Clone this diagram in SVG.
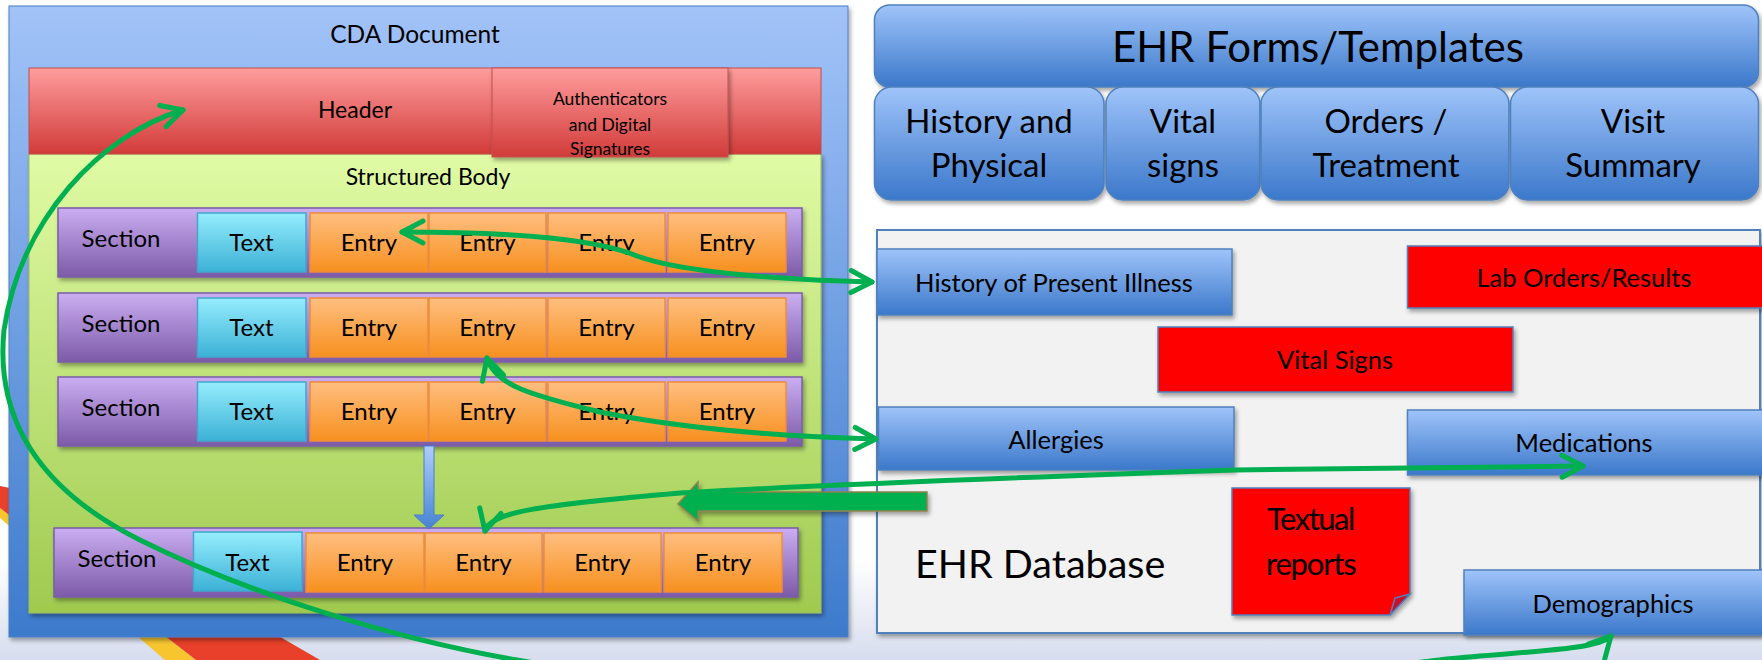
<svg xmlns="http://www.w3.org/2000/svg" width="1762" height="660" viewBox="0 0 1762 660">
  <defs>
    <linearGradient id="gBg" x1="0" y1="0" x2="0" y2="1">
      <stop offset="0" stop-color="#ffffff"/>
      <stop offset="1" stop-color="#d6ddee"/>
    </linearGradient>
    <linearGradient id="gCda" x1="0" y1="0" x2="0" y2="1">
      <stop offset="0" stop-color="#a2c3f8"/>
      <stop offset="1" stop-color="#3d7acc"/>
    </linearGradient>
    <linearGradient id="gHead" x1="0" y1="0" x2="0" y2="1">
      <stop offset="0" stop-color="#ff9d9d"/>
      <stop offset="1" stop-color="#d13b39"/>
    </linearGradient>
    <linearGradient id="gBody" x1="0" y1="0" x2="0" y2="1">
      <stop offset="0" stop-color="#e0fba5"/>
      <stop offset="1" stop-color="#9fca4f"/>
    </linearGradient>
    <linearGradient id="gSec" x1="0" y1="0" x2="0" y2="1">
      <stop offset="0" stop-color="#cbaef2"/>
      <stop offset="1" stop-color="#7c5aa8"/>
    </linearGradient>
    <linearGradient id="gTxt" x1="0" y1="0" x2="0" y2="1">
      <stop offset="0" stop-color="#95edfd"/>
      <stop offset="1" stop-color="#3cb1d6"/>
    </linearGradient>
    <linearGradient id="gEnt" x1="0" y1="0" x2="0" y2="1">
      <stop offset="0" stop-color="#ffbf80"/>
      <stop offset="1" stop-color="#f7901f"/>
    </linearGradient>
    <linearGradient id="gBlue" x1="0" y1="0" x2="0" y2="1">
      <stop offset="0" stop-color="#9fc4fa"/>
      <stop offset="1" stop-color="#3b78ca"/>
    </linearGradient>
    <linearGradient id="gDown" x1="0" y1="0" x2="0" y2="1">
      <stop offset="0" stop-color="#afcdfa"/>
      <stop offset="1" stop-color="#4683d4"/>
    </linearGradient>
    <filter id="shadow" x="-5%" y="-10%" width="115%" height="140%">
      <feDropShadow dx="2" dy="3" stdDeviation="2" flood-color="#000" flood-opacity="0.35"/>
    </filter>
    <marker id="chev" markerUnits="userSpaceOnUse" viewBox="0 0 30 30" markerWidth="30" markerHeight="30" refX="26" refY="15" orient="auto-start-reverse">
      <path d="M5 4 L26 15 L5 26" fill="none" stroke="#00b050" stroke-width="5" stroke-linecap="round" stroke-linejoin="round"/>
    </marker>
  </defs>
  <style>
    text { font-family: Lato, "Liberation Sans", sans-serif; fill: #000; }
    .c { text-anchor: middle; }
    .sec { fill: url(#gSec); stroke: #7a5ca8; stroke-width: 1.5; filter: url(#shadow); }
    .txt { fill: url(#gTxt); stroke: #40a8cc; stroke-width: 1.5; }
    .ent { fill: url(#gEnt); stroke: #f08c3a; stroke-width: 1.5; }
    .row text { font-size: 24px; }
    .blue { fill: url(#gBlue); stroke: #4f81bd; stroke-width: 1.5; filter: url(#shadow); }
    .red { fill: #ff0000; stroke: #4f81bd; stroke-width: 1.5; filter: url(#shadow); }
    .item { font-size: 25.5px; }
    .form { font-size: 33px; }
    .link { fill: none; stroke: #00b050; stroke-width: 5; stroke-linecap: round; marker-start: url(#chev); marker-end: url(#chev); }
  </style>

  <!-- slide background with decorative swoosh -->
  <rect x="0" y="0" width="1762" height="660" fill="#ffffff"/>
  <rect x="0" y="560" width="1762" height="100" fill="url(#gBg)"/>
  <polygon points="0,508 0,518 165,660 196,660" fill="#f7c62f"/>
  <polygon points="0,486 30,492 320,660 196,660 0,508" fill="#e8402a"/>

  <!-- CDA document -->
  <g id="cda-document">
    <rect x="9" y="6" width="839" height="631" fill="url(#gCda)" stroke="#4a7ec4" stroke-width="1" filter="url(#shadow)"/>
    <text class="c" x="415" y="43" font-size="24.5">CDA Document</text>
  </g>

  <g id="structured-body">
    <rect x="29" y="154" width="792" height="459" fill="url(#gBody)" stroke="#9bbb59" stroke-width="1" filter="url(#shadow)"/>
    <text class="c" x="428" y="185" font-size="23">Structured Body</text>
  </g>

  <g id="header">
    <rect x="29" y="68" width="792" height="86" fill="url(#gHead)" stroke="#c0504d" stroke-width="1"/>
    <text class="c" x="355" y="118" font-size="23">Header</text>
  </g>
  <g id="authenticators">
    <rect x="492" y="68" width="236" height="89" fill="url(#gHead)" stroke="#c0504d" stroke-width="1" filter="url(#shadow)"/>
    <text class="c" x="610" y="105" font-size="17.5">Authenticators</text>
    <text class="c" x="610" y="131" font-size="17.5">and Digital</text>
    <text class="c" x="610" y="155" font-size="17.5">Signatures</text>
  </g>

  <g id="section-1" class="row" transform="translate(0,208)">
    <rect class="sec" x="58" y="0" width="744" height="69"/>
    <text class="c" x="121" y="39">Section</text>
    <rect class="txt" x="197.5" y="5" width="108.5" height="59"/>
    <text class="c" x="251.5" y="43">Text</text>
    <rect class="ent" x="310" y="5" width="118" height="59"/>
    <text class="c" x="369" y="43">Entry</text>
    <rect class="ent" x="429" y="5" width="117" height="59"/>
    <text class="c" x="487.5" y="43">Entry</text>
    <rect class="ent" x="548" y="5" width="117" height="59"/>
    <text class="c" x="606.5" y="43">Entry</text>
    <rect class="ent" x="668" y="5" width="118" height="59"/>
    <text class="c" x="727" y="43">Entry</text>
  </g>

  <g id="section-2" class="row" transform="translate(0,293)">
    <rect class="sec" x="58" y="0" width="744" height="69"/>
    <text class="c" x="121" y="39">Section</text>
    <rect class="txt" x="197.5" y="5" width="108.5" height="59"/>
    <text class="c" x="251.5" y="43">Text</text>
    <rect class="ent" x="310" y="5" width="118" height="59"/>
    <text class="c" x="369" y="43">Entry</text>
    <rect class="ent" x="429" y="5" width="117" height="59"/>
    <text class="c" x="487.5" y="43">Entry</text>
    <rect class="ent" x="548" y="5" width="117" height="59"/>
    <text class="c" x="606.5" y="43">Entry</text>
    <rect class="ent" x="668" y="5" width="118" height="59"/>
    <text class="c" x="727" y="43">Entry</text>
  </g>

  <g id="section-3" class="row" transform="translate(0,377)">
    <rect class="sec" x="58" y="0" width="744" height="69"/>
    <text class="c" x="121" y="39">Section</text>
    <rect class="txt" x="197.5" y="5" width="108.5" height="59"/>
    <text class="c" x="251.5" y="43">Text</text>
    <rect class="ent" x="310" y="5" width="118" height="59"/>
    <text class="c" x="369" y="43">Entry</text>
    <rect class="ent" x="429" y="5" width="117" height="59"/>
    <text class="c" x="487.5" y="43">Entry</text>
    <rect class="ent" x="548" y="5" width="117" height="59"/>
    <text class="c" x="606.5" y="43">Entry</text>
    <rect class="ent" x="668" y="5" width="118" height="59"/>
    <text class="c" x="727" y="43">Entry</text>
  </g>

  <g id="section-4" class="row" transform="translate(-4,528)">
    <rect class="sec" x="58" y="0" width="744" height="69"/>
    <text class="c" x="121" y="39">Section</text>
    <rect class="txt" x="197.5" y="4" width="108.5" height="59"/>
    <text class="c" x="251.5" y="43">Text</text>
    <rect class="ent" x="310" y="5" width="118" height="59"/>
    <text class="c" x="369" y="43">Entry</text>
    <rect class="ent" x="429" y="5" width="117" height="59"/>
    <text class="c" x="487.5" y="43">Entry</text>
    <rect class="ent" x="548" y="5" width="117" height="59"/>
    <text class="c" x="606.5" y="43">Entry</text>
    <rect class="ent" x="668" y="5" width="118" height="59"/>
    <text class="c" x="727" y="43">Entry</text>
  </g>

  <!-- more sections follow -->
  <g id="section-continuation">
    <polygon points="424,446 434,446 434,515 444,515 429,529 414,515 424,515" fill="url(#gDown)" stroke="#4a7ec4" stroke-width="1"/>
  </g>

  <!-- EHR forms / templates -->
  <g id="ehr-forms">
    <rect class="blue" x="874.5" y="5" width="884" height="82" rx="15"/>
    <text class="c" x="1318" y="62" font-size="42">EHR Forms/Templates</text>
  </g>
  <g id="form-history-physical">
    <rect class="blue" x="874.5" y="87" width="229.5" height="113" rx="17"/>
    <text class="c form" x="989" y="133">History and</text>
    <text class="c form" x="989" y="177">Physical</text>
  </g>
  <g id="form-vital-signs">
    <rect class="blue" x="1106" y="87" width="154" height="113" rx="17"/>
    <text class="c form" x="1183" y="133">Vital</text>
    <text class="c form" x="1183" y="177">signs</text>
  </g>
  <g id="form-orders-treatment">
    <rect class="blue" x="1261" y="87" width="248" height="113" rx="17"/>
    <text class="c form" x="1386" y="133">Orders /</text>
    <text class="c form" x="1386" y="177">Treatment</text>
  </g>
  <g id="form-visit-summary">
    <rect class="blue" x="1510.5" y="87" width="248" height="113" rx="17"/>
    <text class="c form" x="1633" y="133">Visit</text>
    <text class="c form" x="1633" y="177">Summary</text>
  </g>

  <!-- EHR database -->
  <g id="ehr-database">
    <rect x="877" y="230" width="883" height="403" fill="#f2f2f2" stroke="#4f81bd" stroke-width="2" filter="url(#shadow)"/>
    <text x="915" y="578" font-size="39.5">EHR Database</text>
  </g>
  <g id="history-present-illness">
    <rect class="blue" x="877" y="249" width="355" height="66"/>
    <text class="c item" x="1054" y="292">History of Present Illness</text>
  </g>
  <g id="lab-orders-results">
    <rect class="red" x="1407.5" y="246" width="362" height="62"/>
    <text class="c item" x="1584" y="287">Lab Orders/Results</text>
  </g>
  <g id="vital-signs">
    <rect class="red" x="1158" y="327" width="355" height="65"/>
    <text class="c item" x="1335" y="369">Vital Signs</text>
  </g>
  <g id="allergies">
    <rect class="blue" x="878.5" y="407" width="355.5" height="63"/>
    <text class="c item" x="1056" y="449">Allergies</text>
  </g>
  <g id="medications">
    <rect class="blue" x="1407.5" y="410" width="362" height="65"/>
    <text class="c item" x="1584" y="452">Medications</text>
  </g>
  <g id="textual-reports">
    <path class="red" d="M1232 488 H1410 V594 L1390 615 H1232 Z"/>
    <path d="M1390 615 L1395 598 L1410 594 Z" fill="#c8102e" stroke="#4f81bd" stroke-width="1.5"/>
    <text x="1267" y="530" font-size="31" letter-spacing="-1.5">Textual</text>
    <text x="1266" y="575" font-size="31" letter-spacing="-1.2">reports</text>
  </g>
  <g id="demographics">
    <rect class="blue" x="1464" y="570" width="305" height="65"/>
    <text class="c item" x="1613" y="613">Demographics</text>
  </g>

  <!-- mappings between document entries and database content -->
  <g id="connectors">
    <path d="M927 492 V511 H698 V521 L678 504 L698 482 V492 Z" fill="#00b050" stroke="#8f8150" stroke-width="1.5" filter="url(#shadow)"/>
    <path class="link" d="M402 232 C520 232 600 240 637 256 C680 272 780 280 872 282"/>
    <path class="link" d="M487 358 C495 385 530 395 600 412 C700 432 800 437 876 439"/>
    <path class="link" d="M485 531 C490 512 540 505 680 493 C800 486 1000 478 1234 470 L1583 466"/>
    <path class="link" d="M183 110 C100 135 20 220 4 330 C-5 420 40 490 140 540 C250 595 400 640 517 660 C800 710 1200 690 1447 659 C1530 651 1598 650 1611 636"/>
  </g>
</svg>
